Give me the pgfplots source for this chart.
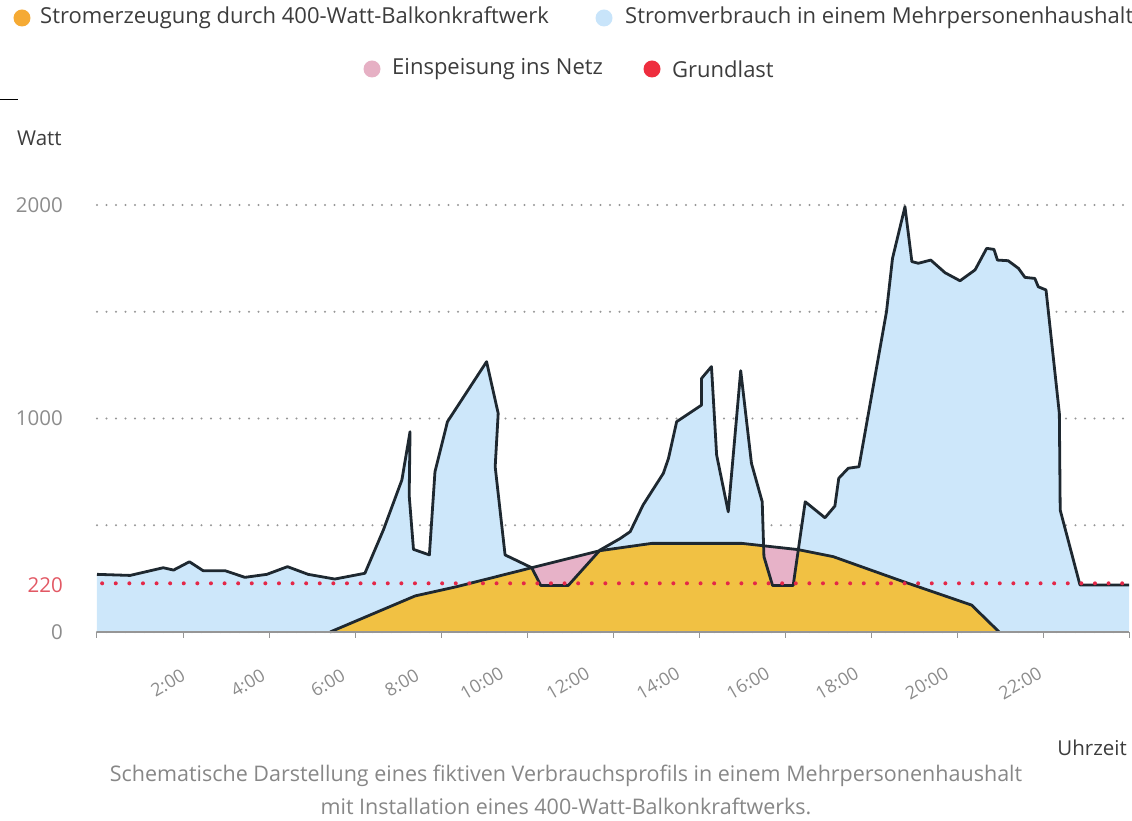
\documentclass[border=0pt]{standalone}
\usepackage{fontspec}
\setmainfont{Open Sans}
\usepackage{pgfplots}
\usepackage{pgfplotstable}
\pgfplotsset{compat=1.18}
\definecolor{blueFill}{RGB}{205,231,250}
\definecolor{yellowFill}{RGB}{241,193,67}
\definecolor{pinkFill}{RGB}{231,178,200}
\definecolor{legOrange}{RGB}{245,170,52}
\definecolor{legBlue}{RGB}{200,228,250}
\definecolor{legPink}{RGB}{230,176,196}
\definecolor{legRed}{RGB}{238,45,62}
\definecolor{dotRed}{RGB}{228,40,72}
\definecolor{lineDark}{RGB}{30,40,48}
\definecolor{gridGray}{RGB}{150,150,150}
\definecolor{tickGray}{RGB}{150,150,150}
\definecolor{labelGray}{RGB}{140,140,140}
\definecolor{red220}{RGB}{226,88,100}
\definecolor{textDark}{RGB}{60,60,60}
\definecolor{capGray}{RGB}{135,135,135}

\pgfplotstableread{
t w
0 270
0.77 265
1.54 301
1.78 290
2.15 329
2.47 287
2.98 287
3.44 256
3.95 270
4.43 306
4.91 270
5.53 248
6.23 275
6.66 478
7.09 712
7.28 938
7.26 640
7.36 387
7.73 361
7.86 751
8.15 985
9.06 1266
9.33 1024
9.26 774
9.49 361
10.11 301
10.32 218
10.96 218
11.70 384
12.16 437
12.40 470
12.70 595
13.17 743
13.29 813
13.48 985
14.06 1063
14.06 1188
14.29 1243
14.41 829
14.68 563
14.97 1224
15.22 790
15.47 610
15.51 353
15.71 218
16.19 218
16.47 610
16.93 535
17.16 590
17.25 720
17.47 767
17.72 774
18.36 1500
18.50 1750
18.79 1992
18.95 1735
19.10 1727
19.39 1742
19.72 1683
20.07 1645
20.42 1696
20.69 1797
20.86 1792
20.94 1742
21.19 1739
21.43 1703
21.58 1661
21.81 1656
21.89 1617
22.07 1602
22.38 1024
22.40 571
22.86 220
24 220
}\cons

\pgfplotstableread{
t w
5.42 0
7.40 169
8.36 212
10.11 301
11.70 381
12.90 415
15.00 415
16.30 386
17.12 353
18.75 236
20.34 126
20.98 0
}\prod

\pgfplotstableread{
t w
10.11 301
10.32 218
10.96 218
11.70 381
10.11 301
}\feedA

\pgfplotstableread{
t w
15.50 404
15.51 353
15.71 218
16.19 218
16.31 386
15.50 404
}\feedB

\begin{document}
\begin{tikzpicture}
\begin{axis}[
  x=43pt, y=0.2135pt,
  xmin=0, xmax=24, ymin=0, ymax=2000,
  clip=false,
  axis x line*=bottom,
  axis y line*=left,
  x axis line style={draw=none},
  y axis line style={draw=none},
  tick align=outside,
  xtick={0,2,...,24},
  xticklabels={},
  xtick style={draw=tickGray, line width=1pt},
  major tick length=6pt,
  extra x ticks={1.65,3.51,5.37,7.09,8.95,10.95,13.05,15.14,17.21,19.30,21.47},
  extra x tick labels={2:00,4:00,6:00,8:00,10:00,12:00,14:00,16:00,18:00,20:00,22:00},
  extra x tick style={major tick length=0pt, xtick style={draw=none}},
  xticklabel style={font=\fontsize{18}{20}\selectfont, text=labelGray, yshift=-51pt, rotate=30, anchor=center, inner sep=0pt},
  ytick={0,500,1000,1500,2000},
  yticklabels={0,,1000,,2000},
  ytick style={draw=none},
  yticklabel style={font=\fontsize{20.5}{23}\selectfont, text=labelGray, anchor=east, inner sep=0pt, xshift=-28pt},
  extra y ticks={220},
  extra y tick labels={220},
  extra y tick style={grid=none, yticklabel style={text=red220}},
  ymajorgrids,
  grid style={draw=gridGray, line width=2.3pt, line cap=round, dash pattern=on 0pt off 9.5pt},
]
\addplot[draw=none, fill=blueFill] table[x=t,y=w]{\cons} \closedcycle;
\addplot[draw=none, fill=yellowFill] table[x=t,y=w]{\prod} \closedcycle;
\addplot[draw=none, fill=pinkFill] table[x=t,y=w]{\feedA} -- cycle;
\addplot[draw=none, fill=pinkFill] table[x=t,y=w]{\feedB} -- cycle;
\addplot[lineDark, line width=2.8pt, line join=round] table[x=t,y=w]{\prod};
\addplot[lineDark, line width=2.8pt, line join=round] table[x=t,y=w]{\cons};
\addplot[dotRed, line width=4pt, line cap=round, dash pattern=on 0pt off 13.6pt] coordinates {(0.12,228) (24,228)};
\addplot[tickGray, line width=1.5pt] coordinates {(0,0) (24,0)};
\coordinate (O) at (axis cs:0,0);
\end{axis}
\begin{scope}[shift={(O)}]
  \fill[legOrange] (-75pt,614pt) circle (8.5pt);
  \node[anchor=west, inner sep=0pt, font=\fontsize{22}{25}\selectfont, text=textDark] at (-57pt,614pt) {Stromerzeugung durch 400-Watt-Balkonkraftwerk};
  \fill[legBlue] (507pt,614pt) circle (8.5pt);
  \node[anchor=west, inner sep=0pt, font=\fontsize{22}{25}\selectfont, text=textDark] at (528pt,614pt) {Stromverbrauch in einem Mehrpersonenhaushalt};
  \fill[legPink] (275pt,563pt) circle (8.5pt);
  \node[anchor=west, inner sep=0pt, font=\fontsize{22}{25}\selectfont, text=textDark] at (295pt,563pt) {Einspeisung ins Netz};
  \fill[legRed] (555pt,563pt) circle (8.5pt);
  \node[anchor=west, inner sep=0pt, font=\fontsize{22}{25}\selectfont, text=textDark] at (575pt,563pt) {Grundlast};
  \draw[black, line width=1pt] (-97pt,532pt) -- (-79pt,532pt);
  \node[anchor=west, inner sep=0pt, font=\fontsize{20.5}{23}\selectfont, text=textDark] at (-80pt,494pt) {Watt};
  \node[anchor=east, inner sep=0pt, font=\fontsize{20.5}{23}\selectfont, text=textDark] at (1030pt,-116pt) {Uhrzeit};
  \node[inner sep=0pt, font=\fontsize{21.5}{25}\selectfont, text=capGray] at (469pt,-144pt) {Schematische Darstellung eines fiktiven Verbrauchsprofils in einem Mehrpersonenhaushalt};
  \node[inner sep=0pt, font=\fontsize{21.5}{25}\selectfont, text=capGray] at (469pt,-174pt) {mit Installation eines 400-Watt-Balkonkraftwerks.};
  \pgfresetboundingbox
  \path[use as bounding box] (-97pt,-189pt) rectangle (1035pt,632pt);
\end{scope}
\end{tikzpicture}
\end{document}
